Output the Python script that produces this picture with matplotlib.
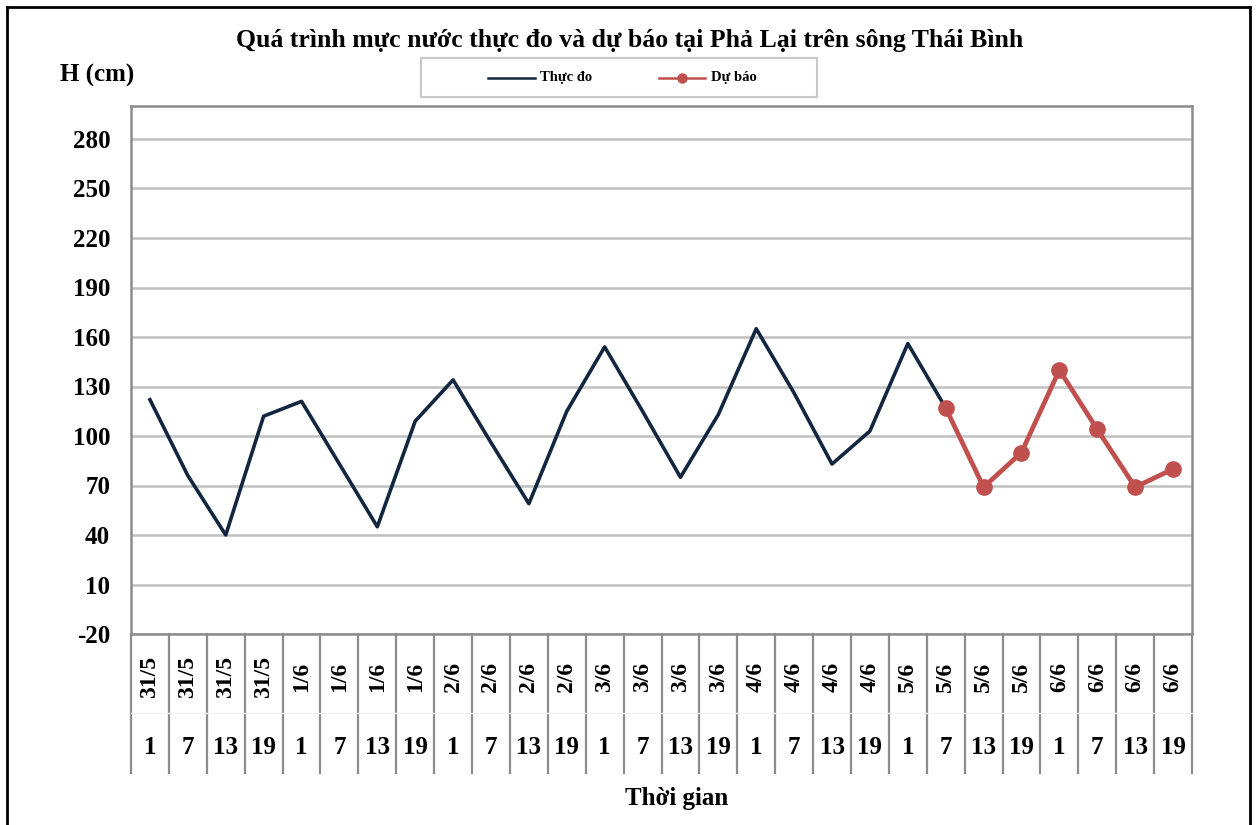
import matplotlib.pyplot as plt
import matplotlib.transforms as mtransforms
from matplotlib.lines import Line2D
from matplotlib.patches import Rectangle

plt.rcParams['font.family'] = ['Liberation Serif', 'DejaVu Serif']
plt.rcParams['font.weight'] = 'bold'

# --- data ---
dates = ["31/5"] * 4 + ["1/6"] * 4 + ["2/6"] * 4 + ["3/6"] * 4 + ["4/6"] * 4 + ["5/6"] * 4 + ["6/6"] * 4
hours = ["1", "7", "13", "19"] * 7
observed = [122, 76, 40, 112, 121, 83, 45, 109, 134, 96, 59, 115,
            154, 115, 75, 113, 165, 126, 83, 103, 156, 117]
forecast_start = 21
forecast = [117, 69, 90, 140, 104, 69, 80]
yticks = list(range(-20, 281, 30))

OBS_COLOR = '#13263f'
FC_COLOR = '#c0504d'

W, H = 1259, 825
fig = plt.figure(figsize=(W / 100, H / 100), dpi=100)

# plot area in pixels: left 131, right 1192, top 106, bottom 634
L, R, T, B = 131, 1192, 106, 634
ax = fig.add_axes([L / W, 1 - B / H, (R - L) / W, (B - T) / H])

n = len(hours)
x_obs = list(range(len(observed)))
x_fc = list(range(forecast_start, forecast_start + len(forecast)))

ax.plot(x_obs, observed, color=OBS_COLOR, linewidth=2.6, zorder=3)
ax.plot(x_fc, forecast, color=FC_COLOR, linewidth=3.4, marker='o',
        markersize=11, zorder=4)

ax.set_xlim(-0.5, n - 0.5)
ax.set_ylim(-20, 300)
ax.set_yticks(yticks)
ax.set_yticklabels([str(v) for v in yticks], fontsize=18, fontweight='bold')
ax.tick_params(axis='y', length=0, pad=15)
ax.set_xticks([])
ax.grid(axis='y', color='#c0c0c0', linewidth=1.8)
ax.set_axisbelow(True)
for s in ax.spines.values():
    s.set_color('#8c8c8c')
    s.set_linewidth(1.8)

# category table below the axis
trans = mtransforms.blended_transform_factory(ax.transData, ax.transAxes)
tab_bottom = -(773 - B) / (B - T)
for i in range(n + 1):
    ax.plot([i - 0.5, i - 0.5], [0, tab_bottom], transform=trans,
            color='#8c8c8c', linewidth=1.6, clip_on=False)
ax.plot([-0.5, n - 0.5], [-(713 - B) / (B - T)] * 2, transform=trans,
        color='#f0f0f0', linewidth=1.0, clip_on=False)
for i in range(n):
    ax.text(i, -(677 - B) / (B - T), dates[i], transform=trans, rotation=90,
            ha='center', va='center', fontsize=17, fontweight='bold')
    ax.text(i, -(748 - B) / (B - T), hours[i], transform=trans,
            ha='center', va='center', fontsize=18, fontweight='bold')

# titles
fig.text(630 / W, 1 - 40 / H, "Quá trình mực nước thực đo và dự báo tại Phả Lại trên sông Thái Bình",
         ha='center', va='center', fontsize=18.5, fontweight='bold')
fig.text(97 / W, 1 - 75 / H, "H (cm)", ha='center', va='center',
         fontsize=18, fontweight='bold')
fig.text(677 / W, 1 - 799 / H, "Thời gian", ha='center', va='center',
         fontsize=18, fontweight='bold')

# legend box, drawn by hand to match the reference placement
def fx(px):
    return px / W


def fy(py):
    return 1 - py / H


fig.add_artist(Rectangle((fx(421), fy(97)), fx(817) - fx(421), fy(58) - fy(97),
                         transform=fig.transFigure, facecolor='white',
                         edgecolor='#c8c8c8', linewidth=1.5))
ly = 78
fig.add_artist(Line2D([fx(488), fx(535)], [fy(ly), fy(ly)], color=OBS_COLOR, linewidth=1.8))
fig.text(fx(540), fy(ly), "Thực đo", ha='left', va='center', fontsize=10.5, fontweight='bold')
fig.add_artist(Line2D([fx(659), fx(705)], [fy(ly), fy(ly)], color=FC_COLOR, linewidth=1.8))
fig.add_artist(Line2D([fx(682)], [fy(ly)], color=FC_COLOR, marker='o', markersize=6.5))
fig.text(fx(711), fy(ly), "Dự báo", ha='left', va='center', fontsize=10.5, fontweight='bold')

# outer border
for xs, ys in [([7, 7], [825, 7]), ([7, 1250], [7, 7]), ([1250, 1250], [7, 825])]:
    fig.add_artist(Line2D([fx(x) for x in xs], [fy(y) for y in ys],
                          color='black', linewidth=2))

fig.savefig('out.png', dpi=100)
